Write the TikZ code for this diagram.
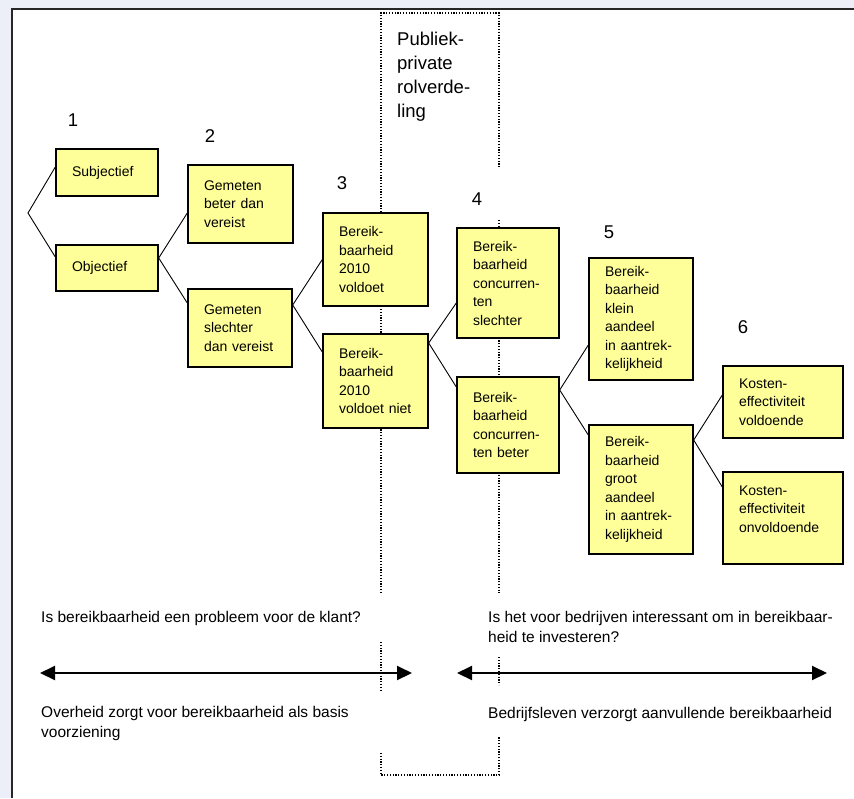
\documentclass[tikz,border=0pt]{standalone}
\usepackage{fontspec}
\setmainfont{Liberation Sans}
\usetikzlibrary{arrows.meta}
\definecolor{bgframe}{RGB}{236,239,247}
\definecolor{boxyellow}{RGB}{255,255,153}
\begin{document}
\begin{tikzpicture}[x=1pt,y=-1pt,
  box/.style={draw=black, line width=1.4pt, fill=boxyellow, inner sep=0pt, align=left,
    font=\fontsize{14}{18.5}\selectfont},
  conn/.style={line width=0.9pt, black},
  sepline/.style={line width=1.1pt, dash pattern=on 1.2pt off 1.6pt},
  lbl/.style={font=\fontsize{15.5}{20}\selectfont, inner sep=0pt, anchor=base west, align=left},
  num/.style={font=\fontsize{18.5}{24}\selectfont, inner sep=0pt},
  arr/.style={line width=2pt, {Triangle[length=15pt,width=14pt]}-{Triangle[length=15pt,width=14pt]}}]
\useasboundingbox (0,0) rectangle (854,798);
% frame
\fill[bgframe] (0,0) rectangle (854,798);
\fill[white] (12,9) rectangle (854,798);
\draw[line width=1.3pt, black!85] (12,798) -- (12,9) -- (854,9);
% dotted public-private band
\draw[sepline] (381,593) -- (381,13) -- (499,13) -- (499,168);
\draw[sepline] (499,220) -- (499,593);
\draw[sepline] (381,642) -- (381,690);
\draw[sepline] (499,657) -- (499,685);
\draw[sepline] (381,753) -- (381,775) -- (499,775) -- (499,737);
\node[font=\fontsize{18.5}{24}\selectfont, inner sep=0pt, anchor=base west, align=left] (publ) at (397,117) {Publiek-\\private\\rolverde-\\ling};
% numbers
\node[num] (n1) at (73,120) {1};
\node[num] (n2) at (210,136) {2};
\node[num] (n3) at (342,183) {3};
\node[num] (n4) at (477,199) {4};
\node[num] (n5) at (609,232) {5};
\node[num] (n6) at (743,327) {6};
% boxes
\node[box, minimum width=102pt, minimum height=47pt, text width=70pt] (subj) at (107,172.5) {Subjectief};
\node[box, minimum width=102pt, minimum height=46pt, text width=70pt] (obj) at (107,268) {Objectief};
\node[box, minimum width=105pt, minimum height=78pt, text width=73pt] (gb) at (240.5,204) {Gemeten\\beter dan\\vereist};
\node[box, minimum width=104pt, minimum height=78pt, text width=72pt] (gs) at (240,328) {Gemeten\\slechter\\dan vereist};
\node[box, minimum width=105pt, minimum height=93pt, text width=73pt] (b3a) at (375.5,259.5) {Bereik-\\baarheid\\2010\\voldoet};
\node[box, minimum width=105pt, minimum height=94pt, text width=73pt] (b3b) at (375.5,381) {Bereik-\\baarheid\\2010\\voldoet niet};
\node[box, minimum width=102pt, minimum height=110pt, text width=70pt] (b4a) at (508,283) {Bereik-\\baarheid\\concurren-\\ten\\slechter};
\node[box, minimum width=102pt, minimum height=96pt, text width=70pt] (b4b) at (508,425) {Bereik-\\baarheid\\concurren-\\ten beter};
\node[box, minimum width=104pt, minimum height=122pt, text width=72pt] (b5a) at (641,319) {Bereik-\\baarheid\\klein\\aandeel\\in aantrek-\\kelijkheid};
\node[box, minimum width=104pt, minimum height=129pt, text width=72pt] (b5b) at (641,489.5) {Bereik-\\baarheid\\groot\\aandeel\\in aantrek-\\kelijkheid};
\node[box, minimum width=120pt, minimum height=72pt, text width=88pt] (b6a) at (783,402) {Kosten-\\effectiviteit\\voldoende};
\node[box, minimum width=120pt, minimum height=92pt, text width=88pt] (b6b) at (783,518) {Kosten-\\effectiviteit\\onvoldoende\\\mbox{}};
% connectors
\coordinate (root) at (28,213);
\draw[conn] ([yshift=5.5pt]subj.west) -- (root) -- ([yshift=11pt]obj.west);
\draw[conn] ([yshift=-9pt]gb.west) -- ([yshift=10pt]obj.east) -- ([yshift=25pt]gs.west);
\draw[conn] (b3a.west) -- ([yshift=23pt]gs.east) -- ([yshift=29pt]b3b.west);
\draw[conn] ([yshift=-20pt]b4a.west) -- ([yshift=38pt]b3b.east) -- ([yshift=38pt]b4b.west);
\draw[conn] ([yshift=-26pt]b5a.west) -- ([yshift=35pt]b4b.east) -- ([yshift=54.5pt]b5b.west);
\draw[conn] ([yshift=7pt]b6a.west) -- ([yshift=49.5pt]b5b.east) -- ([yshift=31pt]b6b.west);
% bottom texts
\node[lbl] (q1) at (41,622) {Is bereikbaarheid een probleem voor de klant?};
\node[lbl] (a1) at (41,737) {Overheid zorgt voor bereikbaarheid als basis\\voorziening};
\node[lbl] (q2) at (488,642) {Is het voor bedrijven interessant om in bereikbaar-\\heid te investeren?};
\node[lbl] (a2) at (488,718) {Bedrijfsleven verzorgt aanvullende bereikbaarheid};
% arrows
\coordinate (l1) at (40,673);
\coordinate (l2) at (412,673);
\coordinate (r1) at (457,673);
\coordinate (r2) at (827,673);
\draw[arr] (l1) -- (l2);
\draw[arr] (r1) -- (r2);
\end{tikzpicture}
\end{document}
